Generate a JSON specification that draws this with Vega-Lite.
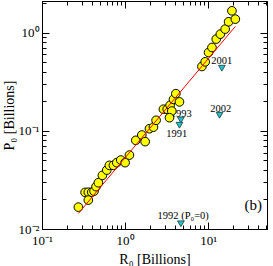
{
  "$schema": "https://vega.github.io/schema/vega-lite/v6.json",
  "width": 225,
  "height": 228,
  "autosize": "none",
  "padding": {"left": 42, "top": 1, "right": 6, "bottom": 37},
  "background": "white",
  "config": {
    "font": "Liberation Serif",
    "view": {"stroke": "black", "strokeWidth": 1},
    "axis": {"grid": false, "domainColor": "black", "tickColor": "black", "labelColor": "black", "titleColor": "black", "labelFont": "Liberation Serif", "titleFont": "Liberation Serif", "titleFontWeight": "normal", "labelFontSize": 13, "titleFontSize": 14}
  },
  "datasets": {
    "pts": [
      {"R": 0.274, "P": 0.0167}, {"R": 0.330, "P": 0.0236}, {"R": 0.361, "P": 0.0237}, {"R": 0.397, "P": 0.0237},
      {"R": 0.423, "P": 0.0243}, {"R": 0.361, "P": 0.0197}, {"R": 0.447, "P": 0.0270}, {"R": 0.477, "P": 0.0296},
      {"R": 0.533, "P": 0.0352}, {"R": 0.602, "P": 0.0398}, {"R": 0.647, "P": 0.0445}, {"R": 0.723, "P": 0.0445},
      {"R": 0.794, "P": 0.0474}, {"R": 0.887, "P": 0.0504}, {"R": 1.0, "P": 0.0474}, {"R": 1.127, "P": 0.0566},
      {"R": 1.345, "P": 0.080}, {"R": 1.589, "P": 0.0906}, {"R": 1.742, "P": 0.0776}, {"R": 1.963, "P": 0.105},
      {"R": 2.193, "P": 0.109}, {"R": 2.36, "P": 0.128}, {"R": 2.89, "P": 0.166}, {"R": 3.21, "P": 0.166},
      {"R": 3.48, "P": 0.182}, {"R": 3.65, "P": 0.159}, {"R": 3.42, "P": 0.136}, {"R": 3.82, "P": 0.209},
      {"R": 4.08, "P": 0.239}, {"R": 4.51, "P": 0.197}, {"R": 8.4, "P": 0.452}, {"R": 9.2, "P": 0.504},
      {"R": 10.1, "P": 0.628}, {"R": 11.1, "P": 0.706}, {"R": 12.5, "P": 0.859}, {"R": 14.0, "P": 0.965},
      {"R": 16.0, "P": 1.086}, {"R": 17.6, "P": 1.29}, {"R": 21.2, "P": 1.373}, {"R": 19.3, "P": 1.669}
    ],
    "tri": [
      {"R": 14.6, "P": 0.434}, {"R": 13.7, "P": 0.144}, {"R": 4.69, "P": 0.129}, {"R": 4.51, "P": 0.114}, {"R": 4.69, "P": 0.0113}
    ],
    "labels": [
      {"R": 14.6, "P": 0.512, "t": "2001"}, {"R": 14.2, "P": 0.168, "t": "2002"}, {"R": 4.73, "P": 0.150, "t": "1993"},
      {"R": 4.19, "P": 0.0921, "t": "1991"}, {"R": 5.0, "P": 0.0137, "t": "1992 (P₀=0)"}
    ],
    "panel": [{"R": 34.8, "P": 0.0174, "t": "(b)"}],
    "fit": [{"R": 0.274, "P": 0.0144}, {"R": 21.2, "P": 1.157}]
  },
  "layer": [
    {
      "data": {"name": "labels"},
      "mark": {"type": "text", "fontSize": 10.5, "font": "Liberation Serif", "color": "black"},
      "encoding": {
        "x": {"field": "R", "type": "quantitative", "scale": {"type": "log", "domain": [0.1, 51], "nice": false},
          "axis": {"orient": "bottom", "title": "R₀ [Billions]", "titlePadding": 2,
            "values": [0.1,0.2,0.3,0.4,0.5,0.6,0.7,0.8,0.9,1,2,3,4,5,6,7,8,9,10,20,30,40,50],
            "labelExpr": "abs(log(datum.value)/LN10 - round(log(datum.value)/LN10)) < 1e-6 ? (round(log(datum.value)/LN10) == -1 ? '10⁻¹' : round(log(datum.value)/LN10) == 0 ? '10⁰' : '10¹') : ''",
            "tickSize": {"condition": {"test": "abs(log(datum.value)/LN10 - round(log(datum.value)/LN10)) < 1e-6", "value": -7}, "value": -4},
            "labelPadding": 12, "labelFlush": false, "labelOverlap": false}},
        "y": {"field": "P", "type": "quantitative", "scale": {"type": "log", "domain": [0.01, 2.1], "nice": false},
          "axis": {"orient": "left", "title": "P₀ [Billions]", "titlePadding": 2,
            "values": [0.01,0.02,0.03,0.04,0.05,0.06,0.07,0.08,0.09,0.1,0.2,0.3,0.4,0.5,0.6,0.7,0.8,0.9,1,2],
            "labelExpr": "abs(log(datum.value)/LN10 - round(log(datum.value)/LN10)) < 1e-6 ? (round(log(datum.value)/LN10) == -2 ? '10⁻²' : round(log(datum.value)/LN10) == -1 ? '10⁻¹' : '10⁰') : ''",
            "tickSize": {"condition": {"test": "abs(log(datum.value)/LN10 - round(log(datum.value)/LN10)) < 1e-6", "value": -7}, "value": -4},
            "labelPadding": 10, "labelFlush": false, "labelOverlap": false}},
        "text": {"field": "t"}
      }
    },
    {
      "data": {"name": "tri"},
      "mark": {"type": "point", "shape": "triangle-down", "filled": true, "size": 45, "fill": "#22c4cc", "stroke": "#1a3a3a", "strokeWidth": 0.8, "opacity": 1},
      "encoding": {
        "x": {"field": "R", "type": "quantitative", "scale": {"type": "log", "domain": [0.1, 51], "nice": false},
          "axis": {"orient": "top", "title": null, "labels": false,
            "values": [0.2,0.3,0.4,0.5,0.6,0.7,0.8,0.9,1,2,3,4,5,6,7,8,9,10,20,30,40,50],
            "tickSize": {"condition": {"test": "abs(log(datum.value)/LN10 - round(log(datum.value)/LN10)) < 1e-6", "value": -7}, "value": -4}}},
        "y": {"field": "P", "type": "quantitative", "scale": {"type": "log", "domain": [0.01, 2.1], "nice": false},
          "axis": {"orient": "right", "title": null, "labels": false,
            "values": [0.02,0.03,0.04,0.05,0.06,0.07,0.08,0.09,0.1,0.2,0.3,0.4,0.5,0.6,0.7,0.8,0.9,1,2],
            "tickSize": {"condition": {"test": "abs(log(datum.value)/LN10 - round(log(datum.value)/LN10)) < 1e-6", "value": -7}, "value": -4}}}
      }
    },
    {
      "data": {"name": "pts"},
      "mark": {"type": "point", "shape": "circle", "filled": true, "size": 75, "fill": "#ffff00", "stroke": "black", "strokeWidth": 1, "opacity": 1},
      "encoding": {
        "x": {"field": "R", "type": "quantitative", "scale": {"type": "log", "domain": [0.1, 51], "nice": false}, "axis": null},
        "y": {"field": "P", "type": "quantitative", "scale": {"type": "log", "domain": [0.01, 2.1], "nice": false}, "axis": null}
      }
    },
    {
      "data": {"name": "fit"},
      "mark": {"type": "line", "color": "#ff0000", "strokeWidth": 1},
      "encoding": {
        "x": {"field": "R", "type": "quantitative", "scale": {"type": "log", "domain": [0.1, 51], "nice": false}, "axis": null},
        "y": {"field": "P", "type": "quantitative", "scale": {"type": "log", "domain": [0.01, 2.1], "nice": false}, "axis": null}
      }
    },
    {
      "data": {"name": "panel"},
      "mark": {"type": "text", "fontSize": 15, "font": "Liberation Serif", "color": "black"},
      "encoding": {
        "x": {"field": "R", "type": "quantitative", "scale": {"type": "log", "domain": [0.1, 51], "nice": false}, "axis": null},
        "y": {"field": "P", "type": "quantitative", "scale": {"type": "log", "domain": [0.01, 2.1], "nice": false}, "axis": null},
        "text": {"field": "t"}
      }
    }
  ],
  "resolve": {"axis": {"x": "independent", "y": "independent"}}
}
